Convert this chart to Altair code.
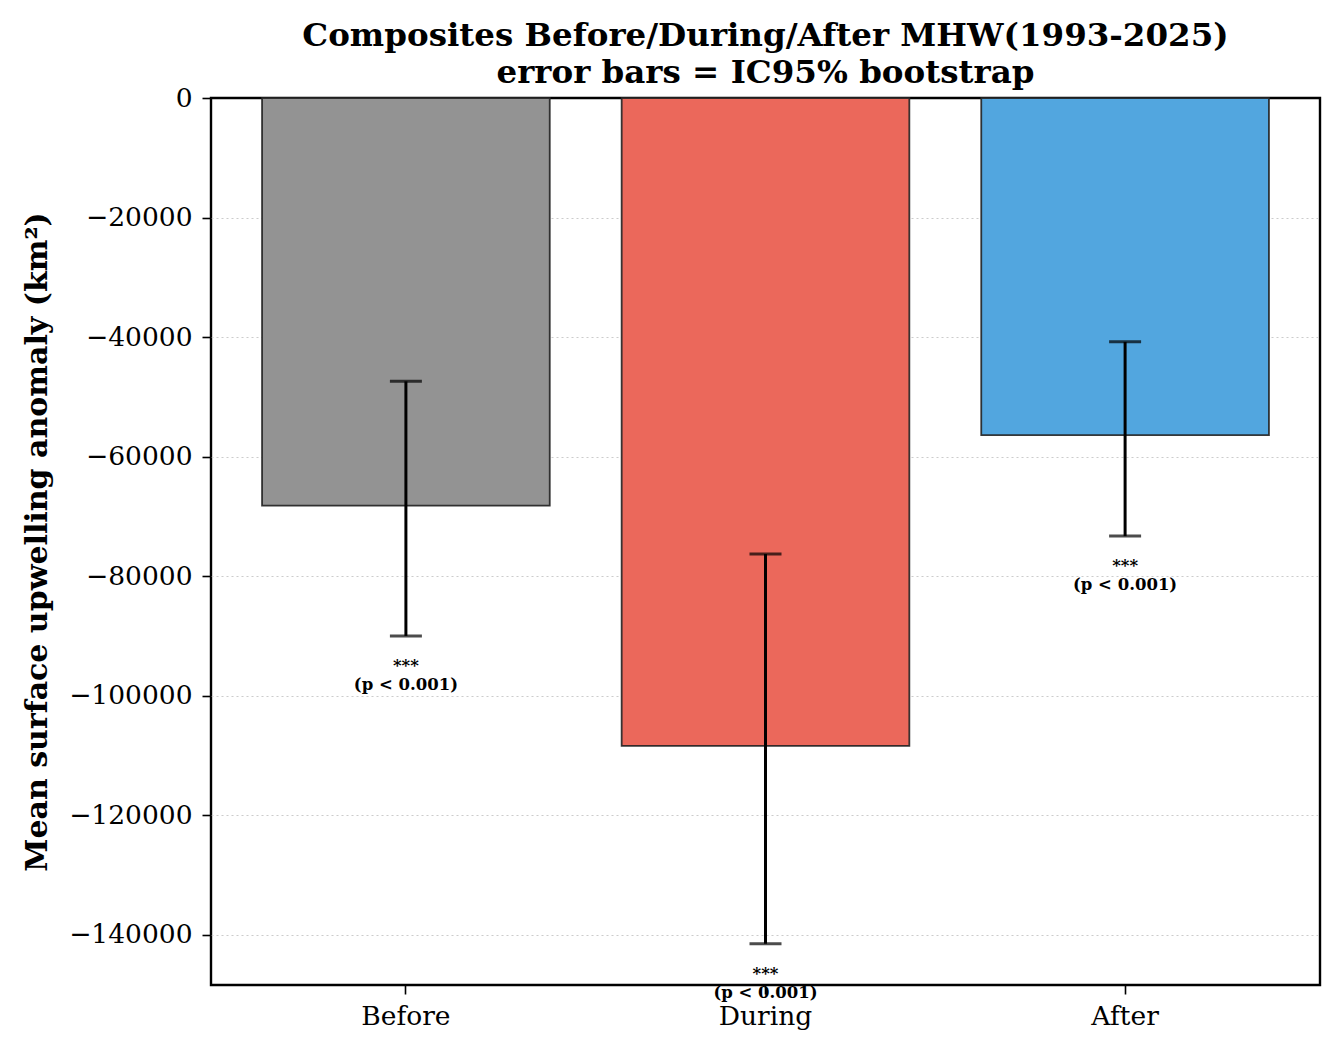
import altair as alt
import pandas as pd

categories = ["Before", "During", "After"]
means = [-68200, -108400, -56400]
ci_low = [-90000, -141500, -73300]
ci_high = [-47400, -76300, -40800]
colors = ["#939393", "#EB685B", "#52A6DF"]
stars = ["***", "***", "***"]
pvals = ["(p < 0.001)", "(p < 0.001)", "(p < 0.001)"]

df = pd.DataFrame({
    "cat": categories, "mean": means, "lo": ci_low, "hi": ci_high,
    "color": colors, "stars": stars, "p": pvals,
})

FONT = "DejaVu Serif"
xs = alt.X("cat:N", sort=categories,
           scale=alt.Scale(paddingInner=0.2, paddingOuter=0.142),
           axis=alt.Axis(title=None, labelAngle=0, labelFontSize=26.5, labelFont=FONT,
                         labelColor="black", tickColor="black", tickSize=9, tickWidth=1.6,
                         domain=False, labelPadding=9, grid=False))
ys = alt.Scale(domain=[-148400, 0], nice=False, zero=False)

base = alt.Chart(df)

bars = base.mark_bar(stroke="#222222", strokeWidth=1.8, strokeOpacity=0.9).encode(
    x=xs,
    y=alt.Y("mean:Q", scale=ys,
            axis=alt.Axis(title="Mean surface upwelling anomaly (km²)",
                          titleFont=FONT, titleFontSize=30, titleFontWeight="bold",
                          titleColor="black", titlePadding=16,
                          labelFont=FONT, labelFontSize=26.5, labelColor="black",
                          values=[0, -20000, -40000, -60000, -80000, -100000, -120000, -140000],
                          format="d", labelExpr="replace(datum.label, '-', '−')",
                          tickColor="black", tickSize=9, tickWidth=1.6, domain=False,
                          grid=True, gridColor="#cccccc", gridDash=[2, 3], gridWidth=1.2,
                          gridOpacity={"condition": {"test": "datum.value === 0", "value": 0}, "value": 1},
                          labelPadding=10)),
    y2=alt.datum(0),
    color=alt.Color("color:N", scale=None),
)

rules = base.mark_rule(color="black", strokeWidth=3).encode(
    x=alt.X("cat:N", sort=categories), y="lo:Q", y2="hi:Q")
cap_lo = base.mark_tick(color="black", thickness=3, size=32).encode(
    x=alt.X("cat:N", sort=categories), y="lo:Q")
cap_hi = base.mark_tick(color="black", thickness=3, size=32).encode(
    x=alt.X("cat:N", sort=categories), y="hi:Q")

txt_star = base.mark_text(font=FONT, fontSize=16.5, fontWeight="bold", color="black",
                          baseline="middle", dy=30).encode(
    x=alt.X("cat:N", sort=categories), y="lo:Q", text="stars:N")
txt_p = base.mark_text(font=FONT, fontSize=16.5, fontWeight="bold", color="black",
                       baseline="middle", dy=49).encode(
    x=alt.X("cat:N", sort=categories), y="lo:Q", text="p:N")

chart = alt.layer(bars, rules, cap_lo, cap_hi, txt_star, txt_p).properties(
    width=1109, height=887,
    title=alt.TitleParams(
        text=["Composites Before/During/After MHW(1993-2025)", "error bars = IC95% bootstrap"],
        font=FONT, fontSize=32.5, fontWeight="bold", color="black",
        anchor="middle", lineHeight=37, offset=-4),
    padding={"left": 203, "top": 90, "right": 12, "bottom": 50},
    autosize=alt.AutoSizeParams(type="none"),
).configure_view(stroke="black", strokeWidth=2.4).configure_axis(labelFlush=False)

chart.save("out.html", embed_options={"renderer": "svg", "actions": False})
